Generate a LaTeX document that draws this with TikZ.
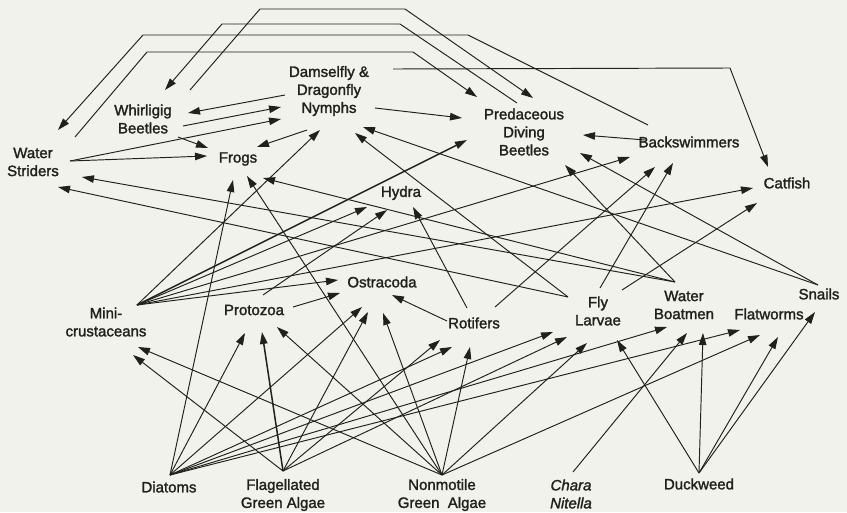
\documentclass[tikz,border=0pt]{standalone}
\usepackage{fontspec}
\setmainfont{Liberation Sans}
\newfontfamily\lblfont{Liberation Sans}[FakeBold=1.6]
\usetikzlibrary{arrows.meta,calc}
\definecolor{bg}{HTML}{F2F2EC}
\definecolor{ink}{HTML}{20201C}
\begin{document}
\begin{tikzpicture}[x=1pt,y=-1pt,
  lbl/.style={font=\lblfont\fontsize{15}{18}\selectfont, text=ink, align=center, inner sep=0pt},
  e/.style={draw=ink, line width=0.95pt, -{Triangle[length=12pt,width=7.5pt]}},
  ethick/.style={e, line width=1.5pt}]
\fill[bg] (0,0) rectangle (847,512);
\useasboundingbox (0,0) rectangle (847,512);
% nodes
\node[lbl] (ws) at (33,162) {Water\\Striders};
\node[lbl] (wb) at (143,119) {Whirligig\\Beetles};
\node[lbl] (dn) at (329,91) {Damselfly \&\\Dragonfly\\Nymphs};
\node[lbl] (fr) at (238,159) {Frogs};
\node[lbl] (pd) at (524,132) {Predaceous\\Diving\\Beetles};
\node[lbl] (bs) at (689,142) {Backswimmers};
\node[lbl] (cf) at (787,183) {Catfish};
\node[lbl] (hy) at (401,193) {Hydra};
\node[lbl] (os) at (382,282) {Ostracoda};
\node[lbl] (mc) at (106,322) {Mini-\\crustaceans};
\node[lbl] (pz) at (254,310) {Protozoa};
\node[lbl] (ro) at (474,323) {Rotifers};
\node[lbl] (fl) at (598,311) {Fly\\Larvae};
\node[lbl] (wbm) at (684,305) {Water\\Boatmen};
\node[lbl] (fw) at (769,314) {Flatworms};
\node[lbl] (sn) at (819,294) {Snails};
\node[lbl] (di) at (169,487) {Diatoms};
\node[lbl] (fga) at (283,495) {Flagellated\\Green Algae};
\node[lbl] (nga) at (442,495) {Nonmotile\\Green\ \ Algae};
\node[lbl] (ch) at (571,494) {\itshape Chara\\\itshape Nitella};
\node[lbl] (dw) at (699,484) {Duckweed};
% tail points
\coordinate (wb-t1) at ($(wb)+(47,-29)$);
\coordinate (wb-t2) at ($(wb)+(40,7)$);
\coordinate (wb-t3) at ($(wb)+(35,18)$);
\coordinate (ws-t1) at ($(ws)+(42,-25)$);
\coordinate (ws-t2) at ($(ws)+(37,-1)$);
\coordinate (dn-t1) at ($(dn)+(-44,4)$);
\coordinate (dn-t2) at ($(dn)+(-22,39)$);
\coordinate (dn-t3) at ($(dn)+(46,17)$);
\coordinate (dn-t4) at ($(dn)+(64,-22)$);
\coordinate (pd-t1) at ($(pd)+(-7,-29)$);
\coordinate (bs-t1) at ($(bs)+(-44,-2)$);
\coordinate (bs-t2) at ($(bs)+(-41,-17)$);
\coordinate (mc-t) at ($(mc)+(31,-17)$);
\coordinate (pz-t1) at ($(pz)+(9,-15)$);
\coordinate (pz-t2) at ($(pz)+(39,-3)$);
\coordinate (ro-t1) at ($(ro)+(-7,-15)$);
\coordinate (ro-t2) at ($(ro)+(21,-16)$);
\coordinate (ro-t3) at ($(ro)+(-27,-2)$);
\coordinate (fl-t1) at ($(fl)+(-30,-14)$);
\coordinate (fl-t2) at ($(fl)+(2,-23)$);
\coordinate (fl-t3) at ($(fl)+(24,-21)$);
\coordinate (wbm-t) at ($(wbm)+(-9,-23)$);
\coordinate (sn-t) at ($(sn)+(-1,-9)$);
\coordinate (di-t) at ($(di)+(1,-12)$);
\coordinate (fga-t) at ($(fga)+(0,-24)$);
\coordinate (nga-t) at ($(nga)+(0,-20)$);
\coordinate (ch-t) at ($(ch)+(2,-22)$);
\coordinate (dw-t) at ($(dw)+(0,-11)$);
% top loops
\draw[e] (wb-t1) -- (260,9) -- (405,9) -- ($(pd)+(9,-34)$);
\draw[e] (pd-t1) -- (400,24) -- (222,24) -- ($(wb)+(22,-29)$);
\draw[e] (bs-t2) -- (468,35) -- (143,35) -- ($(ws)+(25,-32)$);
\draw[e] (ws-t1) -- (147,52) -- (413,52) -- ($(pd)+(-47,-35)$);
\draw[e] (dn-t4) -- (730,68) -- ($(cf)+(-19,-16)$);
% upper edges
\draw[e] (dn-t1) -- ($(wb)+(45,-6)$);
\draw[e] (wb-t2) -- ($(dn)+(-48,16)$);
\draw[e] (wb-t3) -- ($(fr)+(-30,-11)$);
\draw[e] (ws-t2) -- ($(dn)+(-48,28)$);
\draw[e] (ws-t2) -- ($(fr)+(-31,-3)$);
\draw[e] (dn-t2) -- ($(fr)+(19,-12)$);
\draw[e] (dn-t3) -- ($(pd)+(-62,-14)$);
\draw[e] (bs-t1) -- ($(pd)+(59,3)$);
% mini-crustaceans
\draw[e] (mc-t) -- ($(dn)+(-9,39)$);
\draw[ethick] (mc-t) -- ($(pd)+(-57,8)$);
\draw[e] (mc-t) -- ($(hy)+(-34,14)$);
\draw[e] (mc-t) -- ($(bs)+(-59,15)$);
\draw[e] (mc-t) -- ($(cf)+(-34,5)$);
\draw[e] (mc-t) -- ($(os)+(-44,-2)$);
% protozoa
\draw[e] (pz-t1) -- ($(hy)+(-14,17)$);
\draw[e] (pz-t2) -- ($(os)+(-42,11)$);
% rotifers
\draw[e] (ro-t1) -- ($(hy)+(12,14)$);
\draw[e] (ro-t2) -- ($(bs)+(-34,25)$);
\draw[e] (ro-t3) -- ($(os)+(10,13)$);
% fly larvae
\draw[e] (fl-t1) -- ($(ws)+(25,25)$);
\draw[e] (fl-t1) -- ($(dn)+(26,42)$);
\draw[e] (fl-t2) -- ($(bs)+(-16,21)$);
\draw[e] (fl-t3) -- ($(cf)+(-30,20)$);
% water boatmen
\draw[e] (wbm-t) -- ($(ws)+(49,15)$);
\draw[e] (wbm-t) -- ($(fr)+(25,19)$);
\draw[e] (wbm-t) -- ($(pd)+(41,33)$);
% snails
\draw[e] (sn-t) -- ($(dn)+(34,36)$);
\draw[e] (sn-t) -- ($(pd)+(56,21)$);
% diatoms
\draw[e] (di-t) -- ($(fr)+(-5,21)$);
\draw[e] (di-t) -- ($(pz)+(-9,23)$);
\draw[e] (di-t) -- ($(os)+(-20,25)$);
\draw[e] (di-t) -- ($(ro)+(-22,24)$);
\draw[e] (di-t) -- ($(fl)+(-45,21)$);
\draw[e] (di-t) -- ($(wbm)+(-17,22)$);
\draw[e] (di-t) -- ($(fw)+(-29,16)$);
% flagellated green algae
\draw[e] (fga-t) -- ($(mc)+(27,33)$);
\draw[ethick] (fga-t) -- ($(pz)+(8,22)$);
\draw[e] (fga-t) -- ($(os)+(-14,30)$);
\draw[e] (fga-t) -- ($(ro)+(-34,17)$);
\draw[e] (fga-t) -- ($(fl)+(-31,26)$);
% nonmotile green algae
\draw[e] (nga-t) -- ($(mc)+(32,25)$);
\draw[e] (nga-t) -- ($(fr)+(9,17)$);
\draw[e] (nga-t) -- ($(pz)+(23,17)$);
\draw[e] (nga-t) -- ($(os)+(1,31)$);
\draw[e] (nga-t) -- ($(ro)+(-4,24)$);
\draw[e] (nga-t) -- ($(fl)+(-11,32)$);
\draw[e] (nga-t) -- ($(fw)+(-9,21)$);
% chara
\draw[e] (ch-t) -- ($(wbm)+(3,28)$);
% duckweed
\draw[e] (dw-t) -- ($(fl)+(19,29)$);
\draw[e] (dw-t) -- ($(wbm)+(19,28)$);
\draw[e] (dw-t) -- ($(fw)+(9,23)$);
\draw[e] (dw-t) -- ($(sn)+(-4,18)$);
\end{tikzpicture}
\end{document}
